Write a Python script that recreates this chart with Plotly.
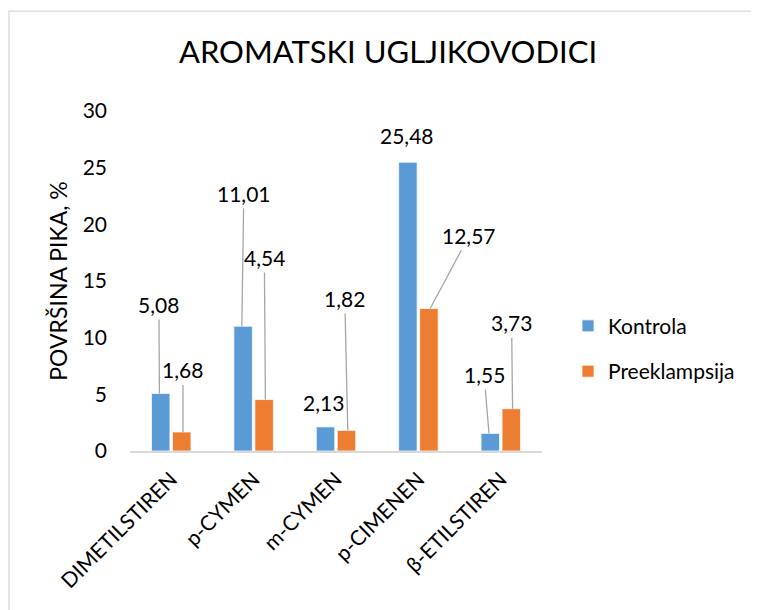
import plotly.graph_objects as go

categories = ["DIMETILSTIREN", "p-CYMEN", "m-CYMEN", "p-CIMENEN", "β-ETILSTIREN"]
kontrola = [5.08, 11.01, 2.13, 25.48, 1.55]
preeklampsija = [1.68, 4.54, 1.82, 12.57, 3.73]
series_names = ["Kontrola", "Preeklampsija"]
y_ticks = [0, 5, 10, 15, 20, 25, 30]

# label placement (pixel offsets of label centre from bar top), style only
kon_off = [(-0.5, -89, True), (2, -133, True), (-1, -24, False), (0, -27, False), (-5, -59, True)]
pre_off = [(0, -62, True), (-1, -142, True), (-3, -132, True), (39, -73, True), (-1, -86, True)]

FONT = "Lato"
BLUE = "#5B9BD5"
ORANGE = "#ED7D31"

W, H = 759, 610
O = 8  # page body margin offset
L, R, T, B = 130 - O, 542 - O, 111 - O, 451.5 - O

x_idx = list(range(len(categories)))

fig = go.Figure()
fig.add_trace(go.Bar(x=x_idx, y=kontrola, name=series_names[0], marker=dict(color=BLUE, line=dict(color="white", width=0.75)),
                     legendgroup="a"))
fig.add_trace(go.Bar(x=x_idx, y=preeklampsija, name=series_names[1], marker=dict(color=ORANGE, line=dict(color="white", width=0.75)),
                     legendgroup="b"))

def fmt(v):
    return f"{v:.2f}".replace(".", ",")

bar_off = 0.143
anns = []
for vals, offs, sgn in [(kontrola, kon_off, -1), (preeklampsija, pre_off, 1)]:
    for i, v in enumerate(vals):
        dx, dy, arrow = offs[i]
        xi = i + sgn * bar_off
        if arrow:
            anns.append(dict(x=xi, y=v, xref="x", yref="y", text=fmt(v), showarrow=True,
                             ax=dx, ay=dy, arrowhead=0, arrowwidth=1.3, arrowcolor="#A6A6A6",
                             standoff=0, startstandoff=1,
                             font=dict(family=FONT, size=21, color="#000000")))
        else:
            anns.append(dict(x=xi, y=v, xref="x", yref="y", text=fmt(v), showarrow=False,
                             xshift=dx, yshift=-dy,
                             font=dict(family=FONT, size=21, color="#000000")))

pw = R - L
ph = B - T
def px(xp):
    return (xp - O - L) / pw
def py(yp):
    return (B - (yp - O)) / ph

shapes = [dict(type="rect", xref="paper", yref="paper", x0=px(9), x1=px(758), y0=py(640), y1=py(11),
               line=dict(color="#D9D9D9", width=1.3), fillcolor="rgba(0,0,0,0)", layer="below")]

fig.update_layout(
    width=W, height=H,
    margin=dict(l=L, r=W - R, t=T, b=H - B, pad=0),
    paper_bgcolor="white", plot_bgcolor="white",
    barmode="group", bargap=0.49, bargroupgap=0.12,
    title=dict(text="AROMATSKI UGLJIKOVODICI", xref="container", x=(388 - O) / W, xanchor="center",
               yref="container", y=1 - (52 - O) / H, yanchor="middle",
               font=dict(family=FONT, size=31, color="#000000")),
    font=dict(family=FONT, color="#000000"),
    xaxis=dict(tickmode="array", tickvals=x_idx, ticktext=categories, tickangle=-45,
               range=[-0.5, len(categories) - 0.5],
               showline=True, linecolor="#D9D9D9", linewidth=1.5, showgrid=False, zeroline=False,
               ticks="", tickfont=dict(family=FONT, size=21, color="#000000"), ticklabelstandoff=6),
    yaxis=dict(range=[0, 30], tickvals=y_ticks, showgrid=False, zeroline=False, showline=False,
               ticks="", tickfont=dict(family=FONT, size=21, color="#000000"), ticklabelstandoff=22,
               title=dict(text="POVRŠINA PIKA, %", font=dict(family=FONT, size=23, color="#000000"), standoff=8)),
    legend=dict(x=px(568), y=py(306), xanchor="left", yanchor="top", font=dict(family=FONT, size=21, color="#000000"),
                tracegroupgap=15, traceorder="grouped", itemwidth=30, bgcolor="rgba(0,0,0,0)"),
    annotations=anns,
    shapes=shapes,
)

fig.write_html("out.html")
